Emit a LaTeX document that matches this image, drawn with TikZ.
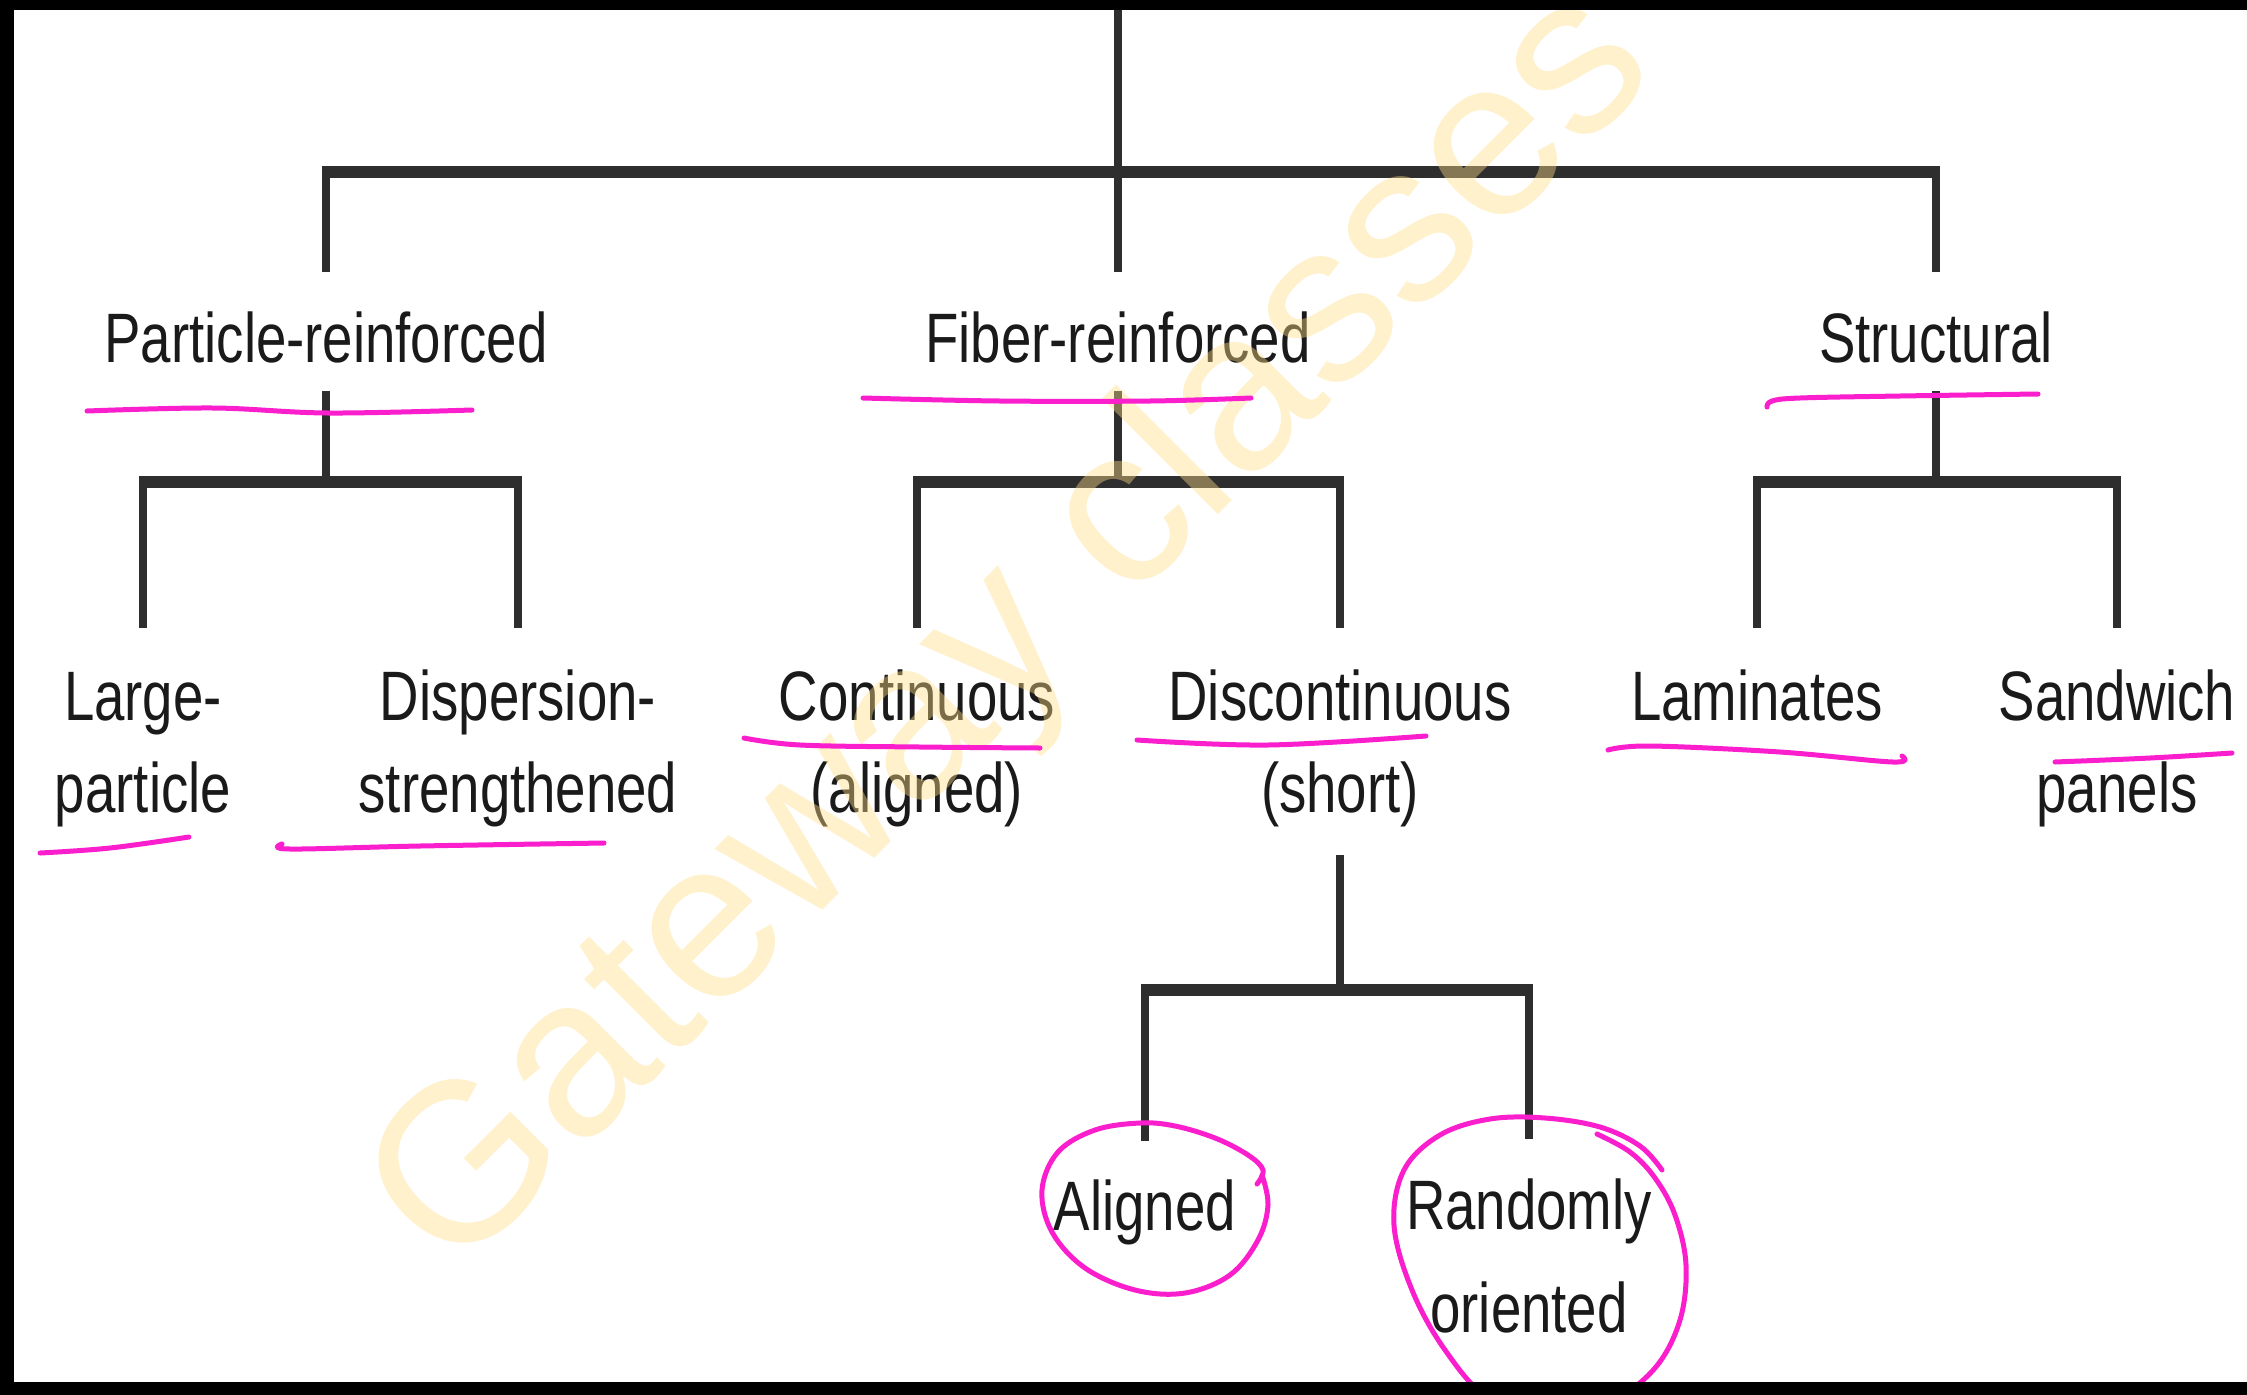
\documentclass[tikz,border=0pt]{standalone}
\usepackage{fontspec}
\setmainfont{Liberation Sans}
\newfontfamily\lblfont[FakeStretch=0.78]{Liberation Sans}
\newfontfamily\wmfont{Liberation Sans}
\usetikzlibrary{calc}
\definecolor{ink}{HTML}{1A1A1A}
\definecolor{linegray}{HTML}{2E2E2E}
\definecolor{pen}{RGB}{250,30,205}
\definecolor{wmyellow}{RGB}{255,222,135}
\tikzset{
  lbl/.style={font=\lblfont\fontsize{70}{92}\selectfont, text=ink, inner sep=0pt, anchor=base, align=center},
  vline/.style={draw=linegray, line width=8pt},
  hline/.style={draw=linegray, line width=12pt, shorten <=-4pt, shorten >=-4pt},
  penmark/.style={draw=pen, line width=5pt, line cap=round, line join=round},
}
\begin{document}
\begin{tikzpicture}[x=1pt,y=-1pt]
\useasboundingbox (0,0) rectangle (2247,1395);
\clip (0,0) rectangle (2247,1395);
\fill[white] (0,0) rectangle (2247,1395);

% ---- labels (a multi-line label sits on the baseline of its last line)
\node[lbl] (P)  at (326,362)   {Particle-reinforced};
\node[lbl] (F)  at (1118,362)  {Fiber-reinforced};
\node[lbl] (S)  at (1936,362)  {Structural};
\node[lbl] (LP) at (143,812)   {Large-\\particle};
\node[lbl] (DS) at (518,812)   {Dispersion-\\strengthened};
\node[lbl] (CA) at (917,812)   {Continuous\\(aligned)};
\node[lbl] (DC) at (1340,812)  {Discontinuous\\(short)};
\node[lbl] (LM) at (1757,720)  {Laminates};
\node[lbl] (SP) at (2117,812)  {Sandwich\\panels};
\node[lbl] (AL) at (1145,1230) {Aligned};
\node[lbl] (RO) at (1529,1332) {Randomly\\[11pt]oriented};

% ---- connector end points just above / below the labels
\coordinate (topedge) at (0,10);
\coordinate (bar0) at (0,172);
\coordinate (bar1) at (0,482);
\coordinate (bar2) at (0,990);
\foreach \n in {P,F,S} {
  \path (\n.base) ++(0,-90) coordinate (\n-in);
  \path (\n.base) ++(0,29)  coordinate (\n-out);
}
\foreach \n in {LP,DS,CA,DC,SP} {
  \path (\n.base) ++(0,-184) coordinate (\n-in);
}
\path (LM.base) ++(0,-92) coordinate (LM-in);
\path (DC.base) ++(0,43) coordinate (DC-out);
\path (AL.base) ++(0,-89) coordinate (AL-in);
\path (RO.base) ++(0,-193) coordinate (RO-in);
\path (F.base |- topedge) coordinate (root);

% ---- tree connectors
\draw[vline] (root) -- (F-in);
\draw[hline] (P-in |- bar0) -- (S-in |- bar0);
\draw[vline] (P-in |- bar0) -- (P-in);
\draw[vline] (S-in |- bar0) -- (S-in);

\draw[vline] (P-out) -- (P-out |- bar1);
\draw[hline] (LP-in |- bar1) -- (DS-in |- bar1);
\draw[vline] (LP-in |- bar1) -- (LP-in);
\draw[vline] (DS-in |- bar1) -- (DS-in);

\draw[vline] (F-out) -- (F-out |- bar1);
\draw[hline] (CA-in |- bar1) -- (DC-in |- bar1);
\draw[vline] (CA-in |- bar1) -- (CA-in);
\draw[vline] (DC-in |- bar1) -- (DC-in);

\draw[vline] (S-out) -- (S-out |- bar1);
\draw[hline] (LM-in |- bar1) -- (SP-in |- bar1);
\draw[vline] (LM-in |- bar1) -- (LM-in);
\draw[vline] (SP-in |- bar1) -- (SP-in);

\draw[vline] (DC-out) -- (DC-out |- bar2);
\draw[hline] (AL-in |- bar2) -- (RO-in |- bar2);
\draw[vline] (AL-in |- bar2) -- (AL-in);
\draw[vline] (RO-in |- bar2) -- (RO-in);

% ---- watermark
\node[font=\wmfont\fontsize{226}{226}\selectfont, text=wmyellow, text opacity=0.42,
      anchor=base west, rotate=45, inner sep=0pt] (wm) at (453,1280) {Gateway classes};

% ---- hand-drawn underlines
\draw[penmark] plot[smooth, tension=0.6] coordinates {(87,411) (213,408) (328,413) (472,410)};
\draw[penmark] plot[smooth, tension=0.6] coordinates {(863,398) (1000,401) (1150,401) (1251,398)};
\draw[penmark] plot[smooth, tension=0.6] coordinates {(1767,407) (1772,401) (1800,398) (1900,396) (2038,394)};
\draw[penmark] plot[smooth, tension=0.6] coordinates {(40,853) (110,848) (189,837)};
\draw[penmark] plot[smooth, tension=0.6] coordinates {(282,844) (290,849) (420,846) (604,843)};
\draw[penmark] plot[smooth, tension=0.6] coordinates {(744,738) (800,745) (920,747) (1040,748)};
\draw[penmark] plot[smooth, tension=0.6] coordinates {(1137,740) (1268,745) (1426,736)};
\draw[penmark] plot[smooth, tension=0.6] coordinates {(1608,750) (1650,746) (1780,752) (1893,762) (1902,756)};
\draw[penmark] plot[smooth, tension=0.6] coordinates {(2055,762) (2150,758) (2232,753)};

% ---- hand-drawn loops
\draw[penmark] plot[smooth, tension=0.6] coordinates {
  (1257,1184) (1263,1170) (1248,1155) (1215,1138) (1175,1126) (1140,1123)
  (1095,1130) (1058,1152) (1042,1190) (1052,1232) (1085,1268) (1135,1290)
  (1185,1293) (1230,1275) (1258,1240) (1268,1205) (1262,1175)};
\draw[penmark] plot[smooth, tension=0.6] coordinates {
  (1597,1134) (1630,1152) (1655,1178) (1675,1215) (1686,1265) (1680,1320)
  (1655,1368) (1610,1402) (1550,1418) (1490,1400) (1445,1350) (1412,1290)
  (1394,1225) (1404,1170) (1440,1135) (1490,1119) (1545,1118) (1600,1127)
  (1640,1146) (1662,1170)};

% ---- dark frame bands
\fill[black] (0,0) rectangle (2247,10);
\fill[black] (0,0) rectangle (14,1395);
\fill[black] (0,1382) rectangle (2247,1395);
\end{tikzpicture}
\end{document}
